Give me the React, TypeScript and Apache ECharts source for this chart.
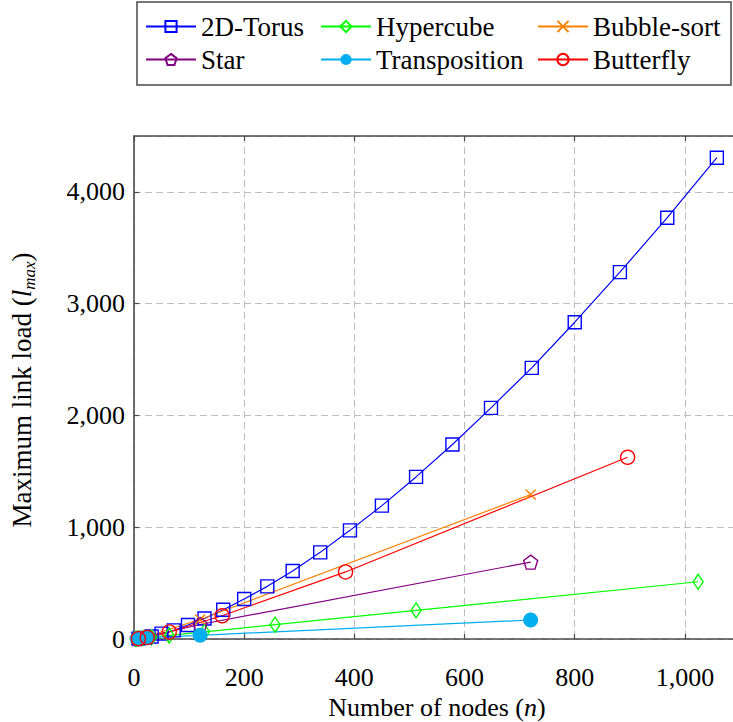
import React, { useEffect, useRef } from "react";
import * as echarts from "echarts";

const torusN = [8, 18, 32, 50, 72, 98, 128, 162, 200, 242, 288, 338, 392, 450, 512, 578, 648, 722, 800, 882, 968, 1058];
const torusL = [3, 10, 23, 48, 77, 125, 184, 262, 358, 471, 609, 775, 972, 1193, 1450, 1740, 2068, 2426, 2834, 3282, 3769, 4306];
const hyperN = [2, 4, 8, 16, 32, 64, 128, 256, 512, 1024];
const hyperL = [1, 2, 4, 8, 16, 32, 64, 128, 256, 512];
const bubbleN = [6, 24, 120, 720];
const bubbleL = [3, 22, 175, 1292];
const starN = [6, 24, 120, 720];
const starL = [3, 18, 130, 688];
const transN = [6, 24, 120, 720];
const transL = [2, 12, 33, 170];
const butterN = [8, 24, 64, 160, 384, 896];
const butterL = [3, 14, 63, 208, 600, 1626];

const xTicks = [0, 200, 400, 600, 800, 1000];
const yTicks = [0, 1000, 2000, 3000, 4000];

const FONT = "Liberation Serif";
const AXIS = "#4a4a4a";

const pts = (xs: number[], ys: number[]) => xs.map((x, i) => [x, ys[i]]);

export default function App() {
  const ref = useRef<HTMLDivElement>(null);
  useEffect(() => {
    if (!ref.current) return;
    const chart = echarts.init(ref.current, undefined, { renderer: "svg" });
    const mk = (
      name: string,
      xs: number[],
      ys: number[],
      color: string,
      symbol: string,
      size: number | number[],
      filled: boolean
    ) => ({
      name,
      type: "line",
      data: pts(xs, ys),
      symbol,
      symbolSize: size,
      showAllSymbol: true,
      clip: false,
      lineStyle: { color, width: 1.2 },
      itemStyle: {
        color: filled ? color : "rgba(255,255,255,0)",
        borderColor: color,
        borderWidth: filled ? 0 : 1.4,
      },
      emphasis: { disabled: true },
    });
    const fmt = (v: number) => v.toLocaleString("en-US");
    const legendCommon = {
      orient: "vertical",
      top: 13,
      padding: 0,
      itemWidth: 50,
      itemHeight: 14,
      itemGap: 6,
      selectedMode: false,
      textStyle: { fontFamily: FONT, fontSize: 27, color: "#000" },
    };
    chart.setOption({
      animation: false,
      backgroundColor: "#fff",
      textStyle: { fontFamily: FONT },
      grid: {
        left: 134,
        right: -7,
        top: 136,
        bottom: 83,
        containLabel: false,
        outerBoundsMode: "none",
      },
      legend: [
        { ...legendCommon, left: 145, data: ["2D-Torus", "Star"] },
        { ...legendCommon, left: 320, data: ["Hypercube", "Transposition"] },
        { ...legendCommon, left: 537, data: ["Bubble-sort", "Butterfly"] },
      ],
      graphic: [
        {
          type: "rect",
          shape: { x: 137, y: 2, width: 594, height: 83 },
          style: { fill: "none", stroke: AXIS, lineWidth: 1.5 },
          silent: true,
        },
        {
          type: "text",
          x: 22,
          y: 390,
          rotation: Math.PI / 2,
          silent: true,
          style: {
            text: "{a|Maximum link load (}{i|l}{s|max}{a|)}",
            align: "center",
            verticalAlign: "middle",
            rich: {
              a: { fontFamily: FONT, fontSize: 27, fill: "#000", lineHeight: 32 },
              i: { fontFamily: FONT, fontSize: 27, fontStyle: "italic", fill: "#000", lineHeight: 32 },
              s: { fontFamily: FONT, fontSize: 17, fontStyle: "italic", fill: "#000", lineHeight: 17, verticalAlign: "bottom" },
            },
          },
        },
      ],
      xAxis: [
        {
          type: "value",
          min: 0,
          max: 1100,
          interval: 200,
          position: "bottom",
          name: "{a|Number of nodes (}{i|n}{a|)}",
          nameLocation: "middle",
          nameGap: 49,
          nameTextStyle: {
            rich: {
              a: { fontFamily: FONT, fontSize: 26, color: "#000", lineHeight: 27 },
              i: { fontFamily: FONT, fontSize: 26, fontStyle: "italic", color: "#000", lineHeight: 27 },
            },
          },
          axisLine: { show: true, lineStyle: { color: AXIS, width: 1.6 } },
          axisTick: { show: true, inside: true, length: 5, lineStyle: { color: AXIS, width: 1.2 } },
          axisLabel: {
            show: true,
            margin: 25,
            showMaxLabel: false,
            fontFamily: FONT,
            fontSize: 26,
            color: "#000",
            formatter: (v: number) => (xTicks.includes(v) ? fmt(v) : ""),
          },
          splitLine: { show: true, lineStyle: { color: "#bdbdbd", width: 1, type: [7, 4] } },
        },
        {
          type: "value",
          min: 0,
          max: 1100,
          interval: 200,
          position: "top",
          axisLine: { show: true, lineStyle: { color: AXIS, width: 1.6 } },
          axisTick: { show: true, inside: true, length: 5, lineStyle: { color: AXIS, width: 1.2 } },
          axisLabel: { show: false },
          splitLine: { show: false },
        },
      ],
      yAxis: {
        type: "value",
        min: 0,
        max: 4500,
        interval: 1000,
        axisLine: { show: true, lineStyle: { color: AXIS, width: 1.6 } },
        axisTick: { show: true, inside: true, length: 5, lineStyle: { color: AXIS, width: 1.2 } },
        axisLabel: {
          show: true,
          margin: 9,
          showMaxLabel: false,
          fontFamily: FONT,
          fontSize: 26,
          color: "#000",
          formatter: (v: number) => (yTicks.includes(v) ? fmt(v) : ""),
        },
        splitLine: { show: true, lineStyle: { color: "#bdbdbd", width: 1, type: [7, 4] } },
      },
      series: [
        mk("2D-Torus", torusN, torusL, "#0000ff", "rect", 13, false),
        mk("Hypercube", hyperN, hyperL, "#00ff00", "diamond", [10, 15], false),
        mk("Bubble-sort", bubbleN, bubbleL, "#ff8000", "path://M0,0L10,10M10,0L0,10", 10, false),
        mk("Star", starN, starL, "#800080", "path://M0,-1L0.951,-0.309L0.588,0.809L-0.588,0.809L-0.951,-0.309Z", 14, false),
        mk("Transposition", transN, transL, "#00aeef", "circle", 15, true),
        mk("Butterfly", butterN, butterL, "#ff0000", "circle", 14, false),
      ],
    });
    return () => chart.dispose();
  }, []);
  return <div ref={ref} style={{ width: 733, height: 722, position: "absolute", left: 0, top: 0 }} />;
}
